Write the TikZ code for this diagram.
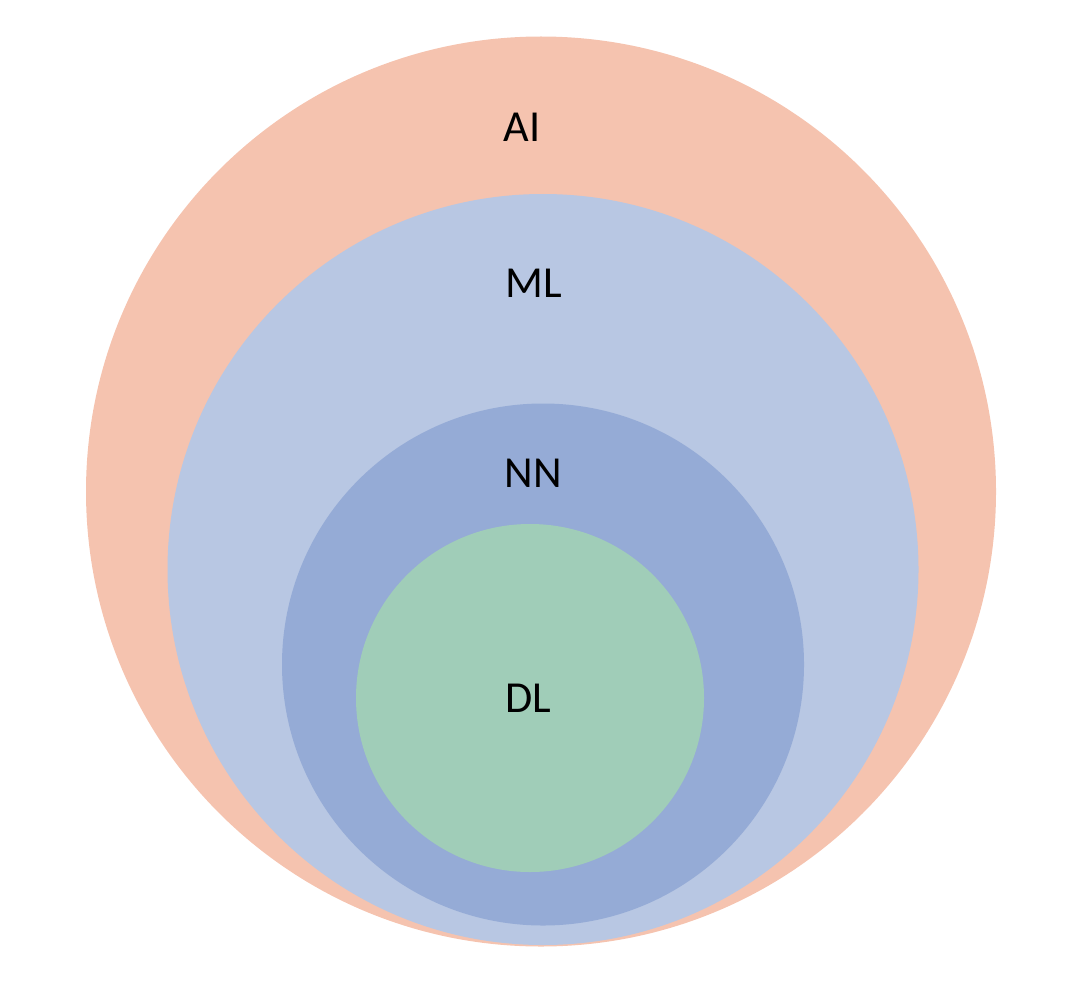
\documentclass[tikz,border=0pt]{standalone}
\usepackage{fontspec}
\setmainfont{Carlito}
\usepackage{tikz}

\definecolor{aicolor}{HTML}{F5C3AF}
\definecolor{mlcolor}{HTML}{B8C7E3}
\definecolor{nncolor}{HTML}{95ABD6}
\definecolor{dlcolor}{HTML}{A0CDB8}

\tikzset{
  setlabel/.style={anchor=base, inner sep=0pt, font=\fontsize{12.6}{15}\selectfont}
}

\begin{document}
\begin{tikzpicture}[x=1cm, y=1cm]
    \useasboundingbox (0,0) rectangle (10.66,9.98);
    % Draw nested sets, outermost first
    \fill [aicolor] (5.41,5.065) circle (4.55); % AI
    \fill [mlcolor] (5.43,4.285) circle (3.755); % ML
    \fill [nncolor] (5.43,3.335) circle (2.61); % NN
    \fill [dlcolor] (5.30,3.00) circle (1.74); % DL
    % Set labels
    \node [setlabel] (ai) at (5.22,8.56) {AI};
    \node [setlabel] (ml) at (5.34,7.01) {ML};
    \node [setlabel] (nn) at (5.33,5.11) {NN};
    \node [setlabel] (dl) at (5.285,2.86) {DL};
\end{tikzpicture}
\end{document}
